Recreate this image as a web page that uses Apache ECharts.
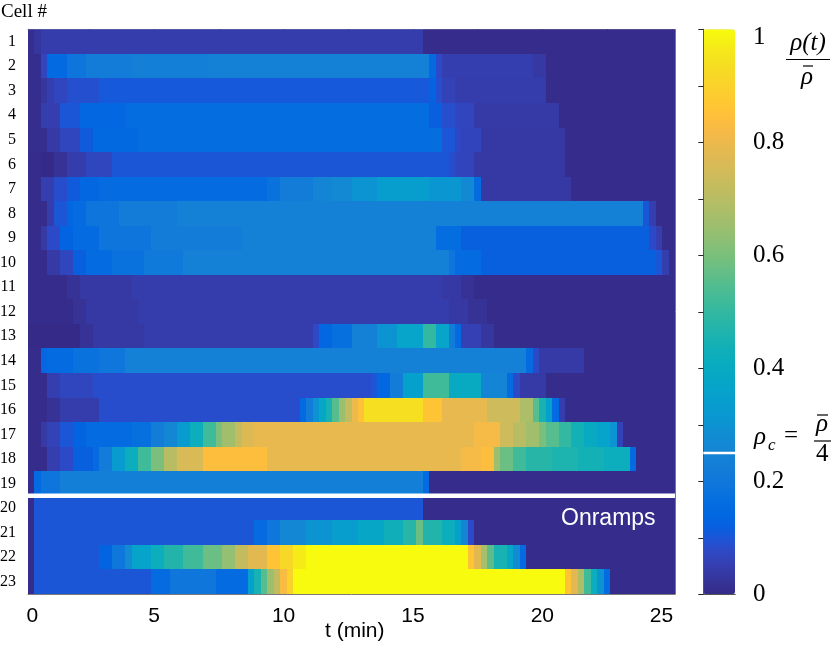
<!DOCTYPE html>
<html><head><meta charset="utf-8">
<script src="https://cdn.jsdelivr.net/npm/echarts@6/dist/echarts.min.js"></script>
<style>html,body{margin:0;padding:0;background:#fff}#c{width:831px;height:649px}</style>
</head><body><div id="c"></div><script>
// ---- data: each row = [time of first 15-s sample (min), rho/rhoBar] run-length segments ----
const sampleStep = 0.25;   // min
const lastSample = 25;     // min
const row01 = [[0.25,0.01],[0.5,0.03],[0.75,0.045],[15.5,0.005]];
const row02 = [[0.25,0.01],[0.75,0.07],[1.0,0.15],[1.75,0.19],[2.5,0.22],[4.25,0.23],[7.25,0.24],[15.75,0.15],[16.0,0.08],[16.25,0.05],[19.75,0.035],[20.25,0.005]];
const row03 = [[0.25,0.01],[0.75,0.03],[1.0,0.05],[1.25,0.07],[1.75,0.09],[3.0,0.105],[15.75,0.125],[16.0,0.09],[16.25,0.06],[16.75,0.045],[20.25,0.005]];
const row04 = [[0.25,0.01],[0.75,0.05],[1.5,0.1],[2.25,0.14],[4.0,0.16],[15.75,0.12],[16.25,0.087],[16.75,0.068],[17.5,0.04],[20.75,0.005]];
const row05 = [[0.25,0.01],[1.0,0.04],[1.5,0.07],[2.25,0.11],[2.75,0.145],[4.5,0.16],[16.25,0.1],[16.75,0.075],[17.0,0.065],[17.75,0.035],[21.0,0.005]];
const row06 = [[0.25,0.005],[0.75,0.0],[1.25,0.02],[1.75,0.045],[2.5,0.07],[3.5,0.1],[16.5,0.085],[16.75,0.065],[17.5,0.035],[21.0,0.005]];
const row07 = [[0.25,0.005],[0.75,0.05],[1.25,0.085],[1.75,0.11],[2.25,0.14],[3.0,0.155],[9.5,0.18],[10.0,0.22],[11.25,0.25],[12.0,0.27],[12.75,0.3],[13.75,0.34],[15.75,0.31],[17.0,0.27],[17.5,0.155],[17.75,0.035],[21.25,0.005]];
const row08 = [[0.25,0.005],[1.0,0.045],[1.25,0.1],[1.75,0.14],[2.0,0.155],[2.5,0.19],[3.75,0.22],[6.0,0.24],[24.0,0.1],[24.25,0.05],[24.5,0.005]];
const row09 = [[0.25,0.005],[0.75,0.04],[1.0,0.08],[1.5,0.13],[2.0,0.155],[3.0,0.19],[5.0,0.22],[8.5,0.235],[16.0,0.16],[17.0,0.12],[24.25,0.08],[24.5,0.05],[24.75,0.005]];
const row10 = [[0.25,0.005],[1.0,0.04],[1.5,0.07],[2.0,0.12],[2.5,0.155],[3.5,0.18],[4.75,0.21],[6.25,0.235],[16.5,0.19],[16.75,0.155],[17.75,0.12],[24.5,0.1],[24.75,0.05],[25.0,0.005]];
const row11 = [[0.25,0.005],[1.75,0.02],[2.25,0.035],[4.25,0.045],[16.25,0.035],[17.0,0.02],[17.5,0.005]];
const row12 = [[0.25,0.005],[2.0,0.02],[2.5,0.035],[4.5,0.045],[16.5,0.035],[17.25,0.02],[18.0,0.005]];
const row13 = [[0.25,0.0],[2.25,0.02],[2.75,0.035],[4.75,0.045],[11.25,0.08],[11.5,0.14],[12.0,0.17],[12.75,0.24],[13.75,0.3],[14.5,0.37],[15.5,0.5],[16.0,0.37],[16.5,0.22],[16.75,0.15],[17.0,0.055],[17.75,0.03],[18.25,0.005]];
const row14 = [[0.25,0.005],[0.75,0.14],[1.0,0.155],[2.0,0.18],[3.0,0.2],[4.0,0.235],[19.5,0.155],[19.75,0.08],[20.0,0.04],[21.75,0.005]];
const row15 = [[0.25,0.005],[1.0,0.05],[1.5,0.07],[2.75,0.085],[13.5,0.1],[13.75,0.14],[14.25,0.22],[14.75,0.35],[15.5,0.52],[16.5,0.4],[17.75,0.25],[18.75,0.155],[19.0,0.08],[19.25,0.04],[20.25,0.005]];
const row16 = [[0.25,0.005],[1.0,0.02],[1.5,0.045],[3.0,0.085],[10.75,0.15],[11.0,0.22],[11.25,0.3],[11.5,0.38],[11.75,0.45],[12.0,0.55],[12.25,0.65],[12.5,0.72],[12.75,0.8],[13.0,0.85],[13.25,0.94],[15.5,0.86],[16.25,0.79],[18.0,0.74],[19.25,0.68],[19.75,0.55],[20.0,0.45],[20.25,0.35],[20.5,0.15],[20.75,0.05],[21.0,0.005]];
const row17 = [[0.25,0.005],[0.75,0.04],[1.0,0.06],[1.5,0.1],[2.0,0.13],[2.5,0.155],[4.25,0.17],[5.0,0.22],[5.5,0.26],[6.0,0.33],[6.5,0.42],[7.0,0.52],[7.5,0.6],[7.75,0.66],[8.25,0.72],[8.5,0.77],[9.0,0.79],[17.5,0.82],[18.5,0.74],[19.0,0.7],[19.5,0.66],[20.0,0.6],[20.25,0.55],[20.75,0.5],[21.25,0.44],[21.75,0.4],[22.25,0.36],[22.75,0.3],[23.0,0.06],[23.25,0.005]];
const row18 = [[0.25,0.005],[1.0,0.05],[1.5,0.08],[2.0,0.12],[2.75,0.155],[3.0,0.22],[3.5,0.33],[4.0,0.42],[4.5,0.52],[5.0,0.6],[5.5,0.7],[6.0,0.76],[7.0,0.84],[9.5,0.79],[17.0,0.82],[17.75,0.84],[18.25,0.65],[18.5,0.58],[19.0,0.52],[19.5,0.48],[20.5,0.46],[21.5,0.44],[22.5,0.42],[23.5,0.15],[23.75,0.005]];
const row19 = [[0.25,0.005],[0.5,0.15],[0.75,0.19],[1.5,0.23],[15.5,0.155],[15.75,0.005]];
const row20 = [[0.25,0.005],[0.5,0.1],[15.5,0.005]];
const row21 = [[0.25,0.005],[0.5,0.1],[9.0,0.155],[9.5,0.2],[10.0,0.26],[11.0,0.3],[12.0,0.34],[13.0,0.38],[14.0,0.43],[14.75,0.48],[15.25,0.58],[15.5,0.47],[16.25,0.42],[16.75,0.35],[17.0,0.25],[17.25,0.08],[17.5,0.005]];
const row22 = [[0.25,0.005],[0.5,0.1],[3.0,0.13],[3.5,0.2],[4.0,0.28],[4.25,0.36],[5.0,0.42],[5.5,0.47],[6.25,0.52],[7.0,0.58],[7.75,0.64],[8.25,0.72],[8.75,0.78],[9.5,0.86],[10.0,0.92],[10.5,0.97],[11.0,1.0],[17.25,0.86],[17.5,0.78],[17.75,0.67],[18.0,0.56],[18.25,0.45],[18.75,0.38],[19.0,0.28],[19.25,0.15],[19.5,0.005]];
const row23 = [[0.25,0.005],[0.5,0.1],[5.0,0.155],[5.75,0.2],[7.5,0.155],[8.75,0.35],[9.0,0.45],[9.25,0.55],[9.5,0.65],[9.75,0.72],[10.0,0.83],[10.25,0.9],[10.5,1.0],[21.0,0.86],[21.25,0.78],[21.5,0.68],[21.75,0.52],[22.0,0.42],[22.25,0.3],[22.5,0.155],[22.75,0.005]];

const cellNumbers = [1,2,3,4,5,6,7,8,9,10,11,12,13,14,15,16,17,18,19,20,21,22,23];
const cellTicks = [2,4,6,8,10,12,14,16,18,20,22];
const timeTicks = [2.5,5,7.5,10,12.5,15,17.5,20,22.5,25];
const timeLabelPos = [0.29,5,10,15,20,24.6];
const barTicks = [0,0.1,0.2,0.3,0.4,0.5,0.6,0.7,0.8,0.9,1];
const barLabels = [0,0.2,0.4,0.6,0.8,1];
const onrampBoundary = 19.5;
const rhoCritical = 0.25;

// parula colormap (64)
const parula = [[0.2081,0.1663,0.5292],[0.2116,0.1898,0.5777],[0.2123,0.2138,0.627],[0.2081,0.2386,0.6771],[0.1959,0.2645,0.7279],[0.1707,0.2919,0.7792],[0.1253,0.3242,0.8303],[0.0591,0.3598,0.8683],[0.0117,0.3875,0.882],[0.006,0.4086,0.8828],[0.0165,0.4266,0.8786],[0.0329,0.443,0.872],[0.0498,0.4586,0.8641],[0.0629,0.4737,0.8554],[0.0723,0.4887,0.8467],[0.0779,0.504,0.8384],[0.0793,0.52,0.8312],[0.0749,0.5375,0.8263],[0.0641,0.557,0.824],[0.0488,0.5772,0.8228],[0.0343,0.5966,0.8199],[0.0265,0.6137,0.8135],[0.0239,0.6287,0.8038],[0.0231,0.6418,0.7913],[0.0228,0.6535,0.7768],[0.0267,0.6642,0.7607],[0.0384,0.6743,0.7436],[0.059,0.6838,0.7254],[0.0843,0.6928,0.7062],[0.1133,0.7015,0.6859],[0.1453,0.7098,0.6646],[0.1801,0.7177,0.6424],[0.2178,0.725,0.6193],[0.2586,0.7317,0.5954],[0.3022,0.7376,0.5712],[0.3482,0.7424,0.5473],[0.3953,0.7459,0.5244],[0.442,0.7481,0.5033],[0.4871,0.7491,0.484],[0.53,0.7491,0.4661],[0.5709,0.7485,0.4494],[0.6099,0.7473,0.4337],[0.6473,0.7456,0.4188],[0.6834,0.7435,0.4044],[0.7184,0.7411,0.3905],[0.7525,0.7384,0.3768],[0.7858,0.7356,0.3633],[0.8185,0.7327,0.3498],[0.8507,0.7299,0.336],[0.8824,0.7274,0.3217],[0.9139,0.7258,0.3063],[0.945,0.7261,0.2886],[0.9739,0.7314,0.2666],[0.9938,0.7455,0.2403],[0.999,0.7653,0.2164],[0.9955,0.7861,0.1967],[0.988,0.8066,0.1794],[0.9789,0.8271,0.1633],[0.9697,0.8481,0.1475],[0.9626,0.8705,0.1309],[0.9589,0.8949,0.1132],[0.9598,0.9218,0.0948],[0.9661,0.9514,0.0755],[0.9763,0.9831,0.0538]];
const parulaCss = parula.map(c => 'rgb(' + c.map(v => Math.round(v * 255)).join(',') + ')');

const rows = [row01,row02,row03,row04,row05,row06,row07,row08,row09,row10,row11,row12,row13,row14,row15,row16,row17,row18,row19,row20,row21,row22,row23];
const cells = [];
rows.forEach((segs, i) => {
  segs.forEach((s, j) => {
    const tNext = j + 1 < segs.length ? segs[j + 1][0] : lastSample + sampleStep;
    cells.push([s[0] - sampleStep / 2, tNext - sampleStep / 2, cellNumbers[i], s[1]]);
  });
});

const SERIF = '"Liberation Serif", "Times New Roman", serif';
const SANS = '"Liberation Sans", Arial, sans-serif';
const frame = '#7a7a7a', tickC = '#262626';

const chart = echarts.init(document.getElementById('c'), null, {renderer: 'canvas'});
chart.setOption({
  animation: false,
  backgroundColor: '#fff',
  grid: [
    {left: 28, top: 29.3, width: 647, height: 564.7, outerBoundsMode: 'none'},
    {left: 703.3, top: 29.3, width: 31.7, height: 565, outerBoundsMode: 'none'}
  ],
  xAxis: [
    {gridIndex: 0, type: 'value', min: 0.125, max: 25.125, position: 'bottom',
     axisLine: {show: true, lineStyle: {color: frame, width: 1}},
     axisTick: {show: true, inside: true, length: 4, customValues: timeTicks, lineStyle: {color: tickC}},
     axisLabel: {customValues: timeLabelPos, formatter: v => String(Math.round(v)), fontFamily: SANS, fontSize: 21, color: '#000', margin: 12},
     splitLine: {show: false}},
    {gridIndex: 0, type: 'value', min: 0.125, max: 25.125, position: 'top',
     axisLine: {show: true, lineStyle: {color: '#aaa', width: 1}},
     axisTick: {show: true, inside: true, length: 4, customValues: timeTicks, lineStyle: {color: tickC}},
     axisLabel: {show: false}, splitLine: {show: false}},
    {gridIndex: 1, type: 'value', min: 0, max: 1, position: 'bottom', z: 10,
     axisLine: {show: true, lineStyle: {color: '#555'}}, axisTick: {show: false}, axisLabel: {show: false}, splitLine: {show: false}},
    {gridIndex: 1, type: 'value', min: 0, max: 1, position: 'top', z: 10,
     axisLine: {show: true, lineStyle: {color: '#555'}}, axisTick: {show: false}, axisLabel: {show: false}, splitLine: {show: false}}
  ],
  yAxis: [
    {gridIndex: 0, type: 'value', min: 0.5, max: 23.5, inverse: true, position: 'left',
     axisLine: {show: true, lineStyle: {color: frame}},
     axisTick: {show: true, inside: true, length: 4, customValues: cellTicks, lineStyle: {color: tickC}},
     axisLabel: {customValues: cellNumbers, fontFamily: SERIF, fontSize: 16, color: '#000', margin: 12},
     splitLine: {show: false}},
    {gridIndex: 0, type: 'value', min: 0.5, max: 23.5, inverse: true, position: 'right',
     axisLine: {show: true, lineStyle: {color: frame}},
     axisTick: {show: true, inside: true, length: 4, customValues: cellTicks, lineStyle: {color: tickC}},
     axisLabel: {show: false}, splitLine: {show: false}},
    {gridIndex: 1, type: 'value', min: 0, max: 1, position: 'left', z: 10,
     axisLine: {show: true, lineStyle: {color: '#555'}}, axisTick: {show: false}, axisLabel: {show: false}, splitLine: {show: false}},
    {gridIndex: 1, type: 'value', min: 0, max: 1, position: 'right', z: 10,
     axisLine: {show: true, lineStyle: {color: '#555'}},
     axisTick: {show: true, inside: true, length: 5, customValues: barTicks, lineStyle: {color: tickC}},
     axisLabel: {customValues: barLabels, margin: 18, fontFamily: SERIF, fontSize: 25, color: '#000',
       formatter: v => v === 1 ? '{top|1}' : String(v),
       rich: {top: {fontFamily: SERIF, fontSize: 25, color: '#000', padding: [16, 0, 0, 0]}}},
     splitLine: {show: false}}
  ],
  visualMap: {
    type: 'continuous', min: 0, max: 1, dimension: 3, seriesIndex: 0,
    inRange: {color: parulaCss}, calculable: false, show: true,
    left: 703.3, top: 29.3, itemWidth: 31.7, itemHeight: 565, padding: 0, text: null,
    orient: 'vertical', hoverLink: false
  },
  series: [
    {type: 'custom', xAxisIndex: 0, yAxisIndex: 0, clip: true,
     encode: {x: [0, 1], y: 2},
     data: cells,
     renderItem: (params, api) => {
       const p0 = api.coord([api.value(0), api.value(2) - 0.5]);
       const p1 = api.coord([api.value(1), api.value(2) + 0.5]);
       const x0 = Math.round(p0[0]), x1 = Math.round(p1[0]);
       const y0 = Math.round(Math.min(p0[1], p1[1])), y1 = Math.round(Math.max(p0[1], p1[1]));
       return {type: 'rect',
         shape: {x: x0, y: y0, width: x1 - x0, height: y1 - y0},
         style: {fill: api.visual('color'), stroke: null}};
     }},
    {type: 'line', xAxisIndex: 0, yAxisIndex: 0, z: 5, symbol: 'none', silent: true,
     data: [[0.125, onrampBoundary], [25.125, onrampBoundary]],
     lineStyle: {color: '#fff', width: 4.5}},
    {type: 'line', xAxisIndex: 2, yAxisIndex: 3, z: 20, symbol: 'none', silent: true,
     data: [[0, rhoCritical], [1, rhoCritical]],
     lineStyle: {color: '#fff', width: 2.5}}
  ],
  graphic: [
    {type: 'text', left: 1, top: 3, style: {text: 'Cell #', font: '19px ' + SERIF, fill: '#000'}},
    {type: 'text', x: 325, y: 631, style: {text: 't (min)', font: '21px ' + SANS, fill: '#000', verticalAlign: 'middle'}},
    {type: 'text', x: 561, y: 519, z: 100, style: {text: 'Onramps', font: '23px ' + SANS, fill: '#fff', verticalAlign: 'middle'}},
    // rho(t)/rhobar
    {type: 'text', x: 808, y: 43, style: {text: 'ρ(t)', font: 'italic 25px ' + SERIF, fill: '#000', align: 'center', verticalAlign: 'middle'}},
    {type: 'line', shape: {x1: 786, y1: 59.5, x2: 830, y2: 59.5}, style: {stroke: '#000', lineWidth: 1.2}},
    {type: 'text', x: 807, y: 77, style: {text: 'ρ', font: 'italic 25px ' + SERIF, fill: '#000', align: 'center', verticalAlign: 'middle'}},
    {type: 'line', shape: {x1: 803, y1: 66, x2: 813, y2: 66}, style: {stroke: '#000', lineWidth: 1.2}},
    // rho_c = rhobar/4
    {type: 'text', x: 754, y: 437, style: {text: 'ρ', font: 'italic 25px ' + SERIF, fill: '#000', verticalAlign: 'middle'}},
    {type: 'text', x: 768, y: 446, style: {text: 'c', font: 'italic 17px ' + SERIF, fill: '#000', verticalAlign: 'middle'}},
    {type: 'text', x: 784, y: 436, style: {text: '=', font: '25px ' + SERIF, fill: '#000', verticalAlign: 'middle'}},
    {type: 'text', x: 816, y: 424, style: {text: 'ρ', font: 'italic 25px ' + SERIF, fill: '#000', verticalAlign: 'middle'}},
    {type: 'line', shape: {x1: 817, y1: 415, x2: 828, y2: 415}, style: {stroke: '#000', lineWidth: 1.2}},
    {type: 'line', shape: {x1: 814, y1: 441, x2: 831, y2: 441}, style: {stroke: '#000', lineWidth: 1.2}},
    {type: 'text', x: 816, y: 454, style: {text: '4', font: '25px ' + SERIF, fill: '#000', verticalAlign: 'middle'}}
  ]
});
</script></body></html>
